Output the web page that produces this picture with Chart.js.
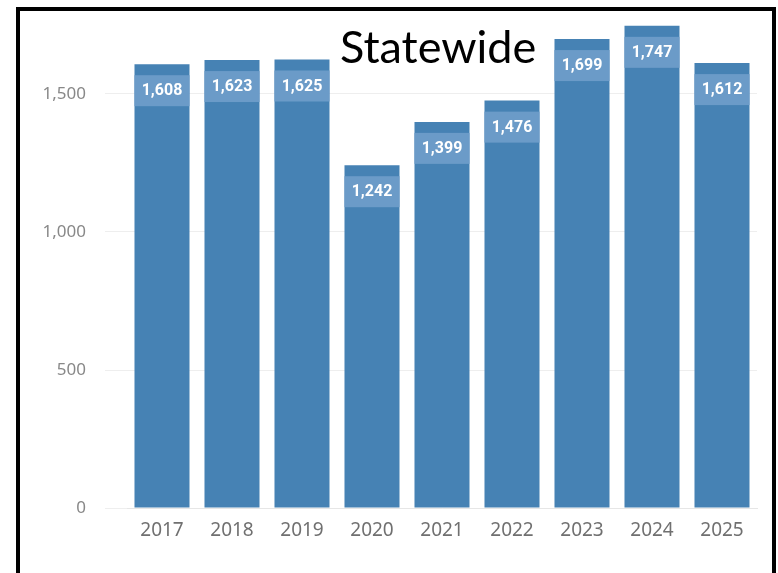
<!DOCTYPE html>
<html>
<head>
<meta charset="utf-8">
<script src="https://cdn.jsdelivr.net/npm/chart.js@4.4.1/dist/chart.umd.min.js"></script>
<style>
  html, body { margin: 0; padding: 0; background: #fff; }
  #wrap { position: relative; width: 778px; height: 573px; overflow: hidden; }
  #c { position: absolute; left: 0; top: -18px; }
  #frame { position: absolute; left: 16px; top: 7px; width: 752px; height: 600px;
           border-left: 4px solid #000; border-top: 4px solid #000; border-right: 4px solid #000; }
  #title { position: absolute; left: 340px; top: 16px; font-family: Lato, sans-serif; font-size: 45px;
           color: #000; line-height: 60px; white-space: nowrap; }
</style>
</head>
<body>
<div id="wrap">
  <canvas id="c" width="778" height="591"></canvas>
  <div id="frame"></div>
  <div id="title">Statewide</div>
</div>
<script>
const categories = ['2017', '2018', '2019', '2020', '2021', '2022', '2023', '2024', '2025'];
const values = [1608, 1623, 1625, 1242, 1399, 1476, 1699, 1747, 1612];
const yTicks = [0, 500, 1000, 1500];

const barColor = '#4682b4';
const boxColor = '#6b9bc8';

const labelPlugin = {
  id: 'valueBoxes',
  afterDatasetsDraw(chart) {
    const ctx = chart.ctx;
    const meta = chart.getDatasetMeta(0);
    ctx.save();
    meta.data.forEach((bar, i) => {
      const w = bar.width;
      const left = bar.x - w / 2;
      ctx.fillStyle = boxColor;
      ctx.fillRect(left, bar.y + 11, w, 31);
      ctx.fillStyle = '#ffffff';
      ctx.font = 'bold 16px Roboto, sans-serif';
      ctx.textAlign = 'center';
      ctx.textBaseline = 'middle';
      ctx.fillText(values[i].toLocaleString('en-US'), bar.x, bar.y + 27);
    });
    ctx.restore();
  }
};

new Chart(document.getElementById('c'), {
  type: 'bar',
  data: {
    labels: categories,
    datasets: [{
      data: values,
      backgroundColor: barColor,
      borderWidth: 0,
      categoryPercentage: 1,
      barPercentage: 0.786
    }]
  },
  options: {
    responsive: false,
    animation: false,
    devicePixelRatio: 1,
    layout: { padding: { left: 0, right: 21, top: 10, bottom: 0 } },
    plugins: { legend: { display: false }, tooltip: { enabled: false }, title: { display: false } },
    scales: {
      x: {
        grid: { display: false },
        border: { display: true, color: '#e6e6e6', width: 1 },
        ticks: { color: '#707070', font: { family: 'Noto Sans, sans-serif', size: 19 }, padding: 3, maxRotation: 0 },
        afterFit(scale) { scale.height = 65; }
      },
      y: {
        min: 0,
        max: 1800,
        grid: { color: '#eeeeee', lineWidth: 1, drawTicks: true, tickLength: 22 },
        border: { display: false },
        ticks: {
          color: '#888888',
          font: { family: 'Noto Sans, sans-serif', size: 17 },
          padding: 19,
          callback: (v) => v.toLocaleString('en-US')
        },
        afterBuildTicks(scale) { scale.ticks = yTicks.map(v => ({ value: v })); },
        afterFit(scale) { scale.width = 127; }
      }
    }
  },
  plugins: [labelPlugin]
});
</script>
</body>
</html>
